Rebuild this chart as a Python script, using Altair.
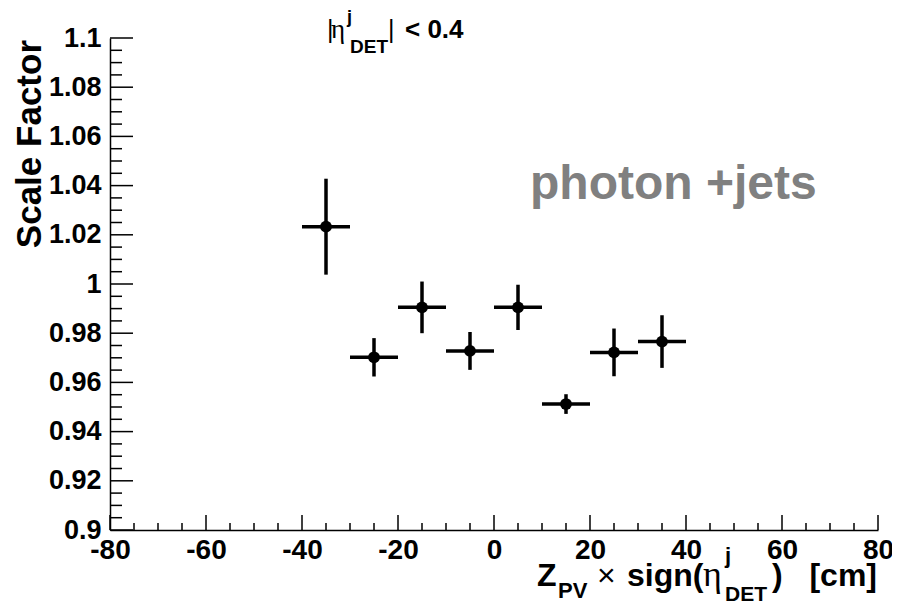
import altair as alt
import pandas as pd

# ---- data ----
x_centers = [-35, -25, -15, -5, 5, 15, 25, 35]
x_halfwidth = [5, 5, 5, 5, 5, 5, 5, 5]
scale_factor = [1.0233, 0.9702, 0.9905, 0.9728, 0.9905, 0.9512, 0.9722, 0.9766]
scale_err = [0.0195, 0.0078, 0.0105, 0.0077, 0.0092, 0.0040, 0.0097, 0.0107]

x_major = [-80, -60, -40, -20, 0, 20, 40, 60, 80]
x_minor = [-75, -70, -65, -55, -50, -45, -35, -30, -25, -15, -10, -5,
           5, 10, 15, 25, 30, 35, 45, 50, 55, 65, 70, 75]
y_major = [0.9, 0.92, 0.94, 0.96, 0.98, 1.0, 1.02, 1.04, 1.06, 1.08, 1.1]
y_minor = [0.905, 0.91, 0.915, 0.925, 0.93, 0.935, 0.945, 0.95, 0.955,
           0.965, 0.97, 0.975, 0.985, 0.99, 0.995, 1.005, 1.01, 1.015,
           1.025, 1.03, 1.035, 1.045, 1.05, 1.055, 1.065, 1.07, 1.075,
           1.085, 1.09, 1.095]

label_text = "photon +jets"
y_title = "Scale Factor"

W, H = 768, 492
FONT = "Liberation Sans"
SYM = "Liberation Serif"

df = pd.DataFrame({
    "x": x_centers,
    "y": scale_factor,
    "xlo": [a - b for a, b in zip(x_centers, x_halfwidth)],
    "xhi": [a + b for a, b in zip(x_centers, x_halfwidth)],
    "ylo": [a - b for a, b in zip(scale_factor, scale_err)],
    "yhi": [a + b for a, b in zip(scale_factor, scale_err)],
})

xs = alt.Scale(domain=[-80, 80], nice=False, zero=False)
ys = alt.Scale(domain=[0.9, 1.1], nice=False, zero=False)

xaxis = alt.Axis(values=x_major, labelExpr="'' + datum.value", ticks=False, tickSize=0, grid=False,
                 labelFont=FONT, labelFontWeight="bold", labelFontSize=28,
                 labelColor="black", labelPadding=6, labelFlush=False,
                 labelOverlap=False, labelBound=False, domainColor="black",
                 domainWidth=1.5, title=None)
yaxis = alt.Axis(values=y_major, format="~g", ticks=False, tickSize=0, grid=False,
                 labelFont=FONT, labelFontWeight="bold", labelFontSize=27,
                 labelColor="black", labelPadding=9, labelFlush=False,
                 labelOverlap=False, labelBound=False, domainColor="black",
                 domainWidth=1.5, title=None)


def X(f):
    return alt.X(f, type="quantitative", scale=xs, axis=xaxis)


def Y(f):
    return alt.Y(f, type="quantitative", scale=ys, axis=yaxis)


# inward ticks
xmaj = alt.Chart(pd.DataFrame({"v": x_major})).mark_rule(color="black", strokeWidth=1.5).encode(
    x=X("v"), y=alt.value(H), y2=alt.value(H - 15))
xmin = alt.Chart(pd.DataFrame({"v": x_minor})).mark_rule(color="black", strokeWidth=1.5).encode(
    x=X("v"), y=alt.value(H), y2=alt.value(H - 7))
ymaj = alt.Chart(pd.DataFrame({"v": y_major})).mark_rule(color="black", strokeWidth=1.5).encode(
    y=Y("v"), x=alt.value(0), x2=alt.value(23))
ymin = alt.Chart(pd.DataFrame({"v": y_minor})).mark_rule(color="black", strokeWidth=1.5).encode(
    y=Y("v"), x=alt.value(0), x2=alt.value(12))

base = alt.Chart(df)
hbar = base.mark_rule(color="black", strokeWidth=3.5).encode(x=X("xlo"), x2="xhi", y=Y("y"))
vbar = base.mark_rule(color="black", strokeWidth=3.5).encode(x=X("x"), y=Y("ylo"), y2="yhi")
pts = base.mark_point(filled=True, shape="circle", size=140, color="black", opacity=1).encode(
    x=X("x"), y=Y("y"))


def txt(t, x, y, size, weight="bold", font=FONT, align="left", angle=0, color="black"):
    kw = dict(align=align, baseline="alphabetic", font=font, fontSize=size,
              fontWeight=weight, color=color)
    if angle:
        kw["angle"] = angle
    return alt.Chart(pd.DataFrame({"t": [t]})).mark_text(**kw).encode(
        text="t:N", x=alt.value(x), y=alt.value(y))


ox, oy = 110, 38  # plot origin on the page
texts = [
    # top label |eta^j_DET| < 0.4
    txt("|", 327 - ox, 38 - oy, 25, weight="normal"),
    txt("η", 331 - ox, 38 - oy, 27, weight="normal", font=SYM),
    txt("j", 347 - ox, 23 - oy, 18),
    txt("DET", 350 - ox, 53 - oy, 19),
    txt("|", 388 - ox, 38 - oy, 25, weight="normal"),
    txt("< 0.4", 405 - ox, 38 - oy, 26),
    # photon +jets
    txt(label_text, 530 - ox, 199 - oy, 48, color="#808080"),
    # y title
    txt(y_title, 41 - ox, 40 - oy, 35, align="right", angle=270),
    # x title
    txt("Z", 537 - ox, 586 - oy, 32),
    txt("PV", 558 - ox, 598 - oy, 22),
    txt("×", 597 - ox, 586 - oy, 32, weight="normal"),
    txt("sign(", 627 - ox, 586 - oy, 32),
    txt("η", 703 - ox, 586 - oy, 36, weight="normal", font=SYM),
    txt("j", 725 - ox, 563 - oy, 22),
    txt("DET", 725 - ox, 601 - oy, 21),
    txt(")", 772 - ox, 586 - oy, 32),
    txt("[cm]", 877 - ox, 586 - oy, 32, align="right"),
]

chart = alt.layer(xmaj, xmin, ymaj, ymin, hbar, vbar, pts, *texts).properties(
    width=W, height=H,
    autosize=alt.AutoSizeParams(type="none"),
    padding={"left": 102, "top": 30, "right": 14, "bottom": 72},
).configure(background="white", view=alt.ViewConfig(stroke=None))

chart.save("out.html", embed_options={"renderer": "svg", "actions": False})
